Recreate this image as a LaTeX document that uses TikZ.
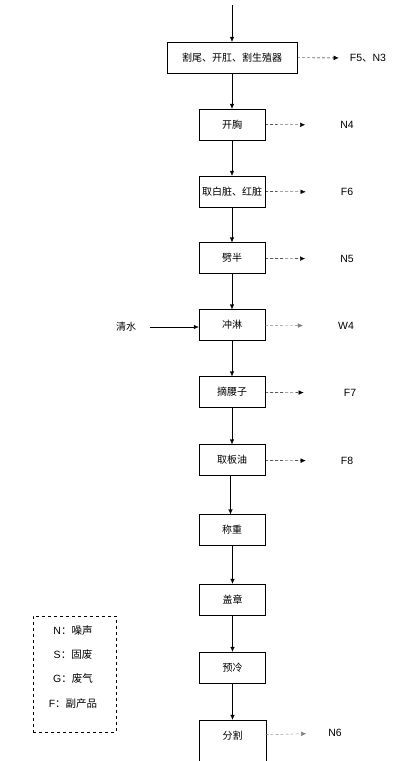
\documentclass[tikz,border=0pt]{standalone}
\usepackage{fontspec}
\setmainfont{Liberation Sans}
\newfontfamily\cjk{Noto Sans CJK SC}
\usetikzlibrary{calc,arrows.meta}

\begin{document}
\begin{tikzpicture}[
 x=1pt, y=-1pt,
 thin,
 >={Latex[length=5pt,width=4.5pt]},
 align=center,
 inner sep=1mm,
 font=\fontsize{10.5}{12}\selectfont,
 box/.style={draw=black,rectangle,minimum height=31pt,minimum width=66pt,font=\cjk\fontsize{10}{12}\selectfont},
 widebox/.style={box,minimum width=130pt},
 emit/.style={->,densely dashed,shorten >=35pt},
 tag/.style={inner sep=0pt}
]
\useasboundingbox (0,0) rectangle (401,761);
\coordinate (feed) at (232,5);
\node (cut) [widebox] at (232,57.5) {割尾、开肛、割生殖器};
\node (chest) [box] at (232,124.5) {开胸};
\node (organ) [box] at (232,191.5) {取白脏、红脏};
\node (split) [box] at (232,258) {劈半};
\node (rinse) [box] at (232,325) {冲淋};
\node (kidney) [box] at (232,392) {摘腰子};
\node (fat) [box] at (232,460) {取板油};
\node (weigh) [box] at (232,530) {称重};
\node (stamp) [box] at (232.5,599.5) {盖章};
\node (chill) [box] at (232.5,667.5) {预冷};
\node (cutup) [box,draw=none] at (232.5,735.5) {分割};
\draw (cutup.south west) ++(0,15) |- (cutup.north east) -- ++(0,46);
% main line
\draw[->] (feed) -- (cut);
\draw[->] (cut) -- (chest);
\draw[->] (chest) -- (organ);
\draw[->] (organ) -- (split);
\draw[->] (split) -- (rinse);
\draw[->] (rinse) -- (kidney);
\draw[->] (kidney) -- (fat);
\draw[->] (fat.south -| 230.5,0) -- (weigh.north -| 230.5,0);
\draw[->] (weigh.south -| stamp) -- (stamp);
\draw[->] (stamp) -- (chill);
\draw[->] (chill) -- (cutup.north);
% outputs
\node (f5) [tag] at (368,58) {F5{\cjk 、}N3};
\node (n4) [tag] at (347,125) {N4};
\node (f6) [tag] at (347,192) {F6};
\node (n5) [tag] at (347,259) {N5};
\node (w4) [tag] at (346,326) {W4};
\node (f7) [tag] at (350,393) {F7};
\node (f8) [tag] at (347,461) {F8};
\node (n6) [tag] at (335,733) {N6};
\draw[emit,shorten >=11pt] (cut) -- (f5);
\draw[emit] (chest) -- (n4);
\draw[emit] (organ) -- (f6);
\draw[emit] (split) -- (n5);
\draw[emit,gray] (rinse) -- (w4);
\draw[emit,shorten >=40pt] (kidney) -- (f7);
\draw[emit] (fat) -- (f8);
\draw[emit,gray,shorten >=22pt] (cutup) -- (n6);
% water in
\node (water) [tag,font=\cjk\fontsize{10}{12}\selectfont] at (126,327) {清水};
\draw[->,shorten <=14pt] (water) -- (rinse.west |- water);
% legend
\node (legend) [draw,dashed,minimum width=83pt,minimum height=116pt] at (74.5,674) {};
\node (leg-n) [tag] at (73,631) {N{\cjk ：噪声}};
\node (leg-s) [tag] at (73,655) {S{\cjk ：固废}};
\node (leg-g) [tag] at (73,679) {G{\cjk ：废气}};
\node (leg-f) [tag] at (73,704) {F{\cjk ：副产品}};
\end{tikzpicture}
\end{document}
